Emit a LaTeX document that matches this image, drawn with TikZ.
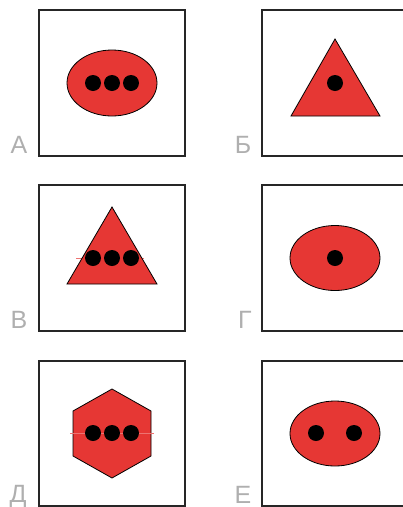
\documentclass[tikz,border=0pt]{standalone}
\usepackage{fontspec}
\setmainfont{Liberation Sans}
\definecolor{shapered}{RGB}{230,55,52}
\definecolor{labelgray}{RGB}{175,175,175}
\begin{document}
\begin{tikzpicture}[x=1pt,y=-1pt,
  panel/.style={draw=black!85,line width=1.1pt},
  figure/.style={fill=shapered,draw=black,line width=0.8pt},
  dot/.style={fill=black},
  streak/.style={draw=shapered!70,line width=0.6pt},
  letter/.style={text=labelgray,font=\fontsize{25}{25}\selectfont,anchor=base,inner sep=0pt}]
\useasboundingbox (0,0) rectangle (403,507);
% panels
\draw[panel] (39,10) rectangle (185,156);
\draw[panel] (262,10) rectangle (408,156);
\draw[panel] (39,185) rectangle (185,331);
\draw[panel] (262,185) rectangle (408,331);
\draw[panel] (39,361) rectangle (185,506);
\draw[panel] (262,361) rectangle (408,506);
% A
\draw[figure] (112,83) ellipse [x radius=45,y radius=33];
\foreach \x in {93,112,131} \fill[dot] (\x,83) circle (8);
% B (Б)
\draw[figure] (335,39) -- (380,116) -- (291,116) -- cycle;
\fill[dot] (335,83) circle (8);
% V (В)
\draw[streak] (76,258) -- (144,258);
\draw[figure] (112,207) -- (157,284) -- (67,284) -- cycle;
\foreach \x in {93,112,131} \fill[dot] (\x,258) circle (8);
% G (Г)
\draw[figure] (335,258) ellipse [x radius=45,y radius=32.5];
\fill[dot] (335,258) circle (8);
% D (Д)
\draw[figure] (112,389) -- (151,411) -- (151,456) -- (112,478) -- (73,456) -- (73,411) -- cycle;
\draw[streak] (70,433) -- (154,433);
\foreach \x in {93,112,131} \fill[dot] (\x,433) circle (8);
% E (Е)
\draw[figure] (335,433.5) ellipse [x radius=45,y radius=32.5];
\foreach \x in {316,354} \fill[dot] (\x,433) circle (8);
% labels
\node[letter] (la) at (19,153) {А};
\node[letter] (lb) at (243,153) {Б};
\node[letter] (lv) at (19,328) {В};
\node[letter] (lg) at (245,328) {Г};
\node[letter] (ld) at (18,502) {Д};
\node[letter] (le) at (243,503) {Е};
\end{tikzpicture}
\end{document}
